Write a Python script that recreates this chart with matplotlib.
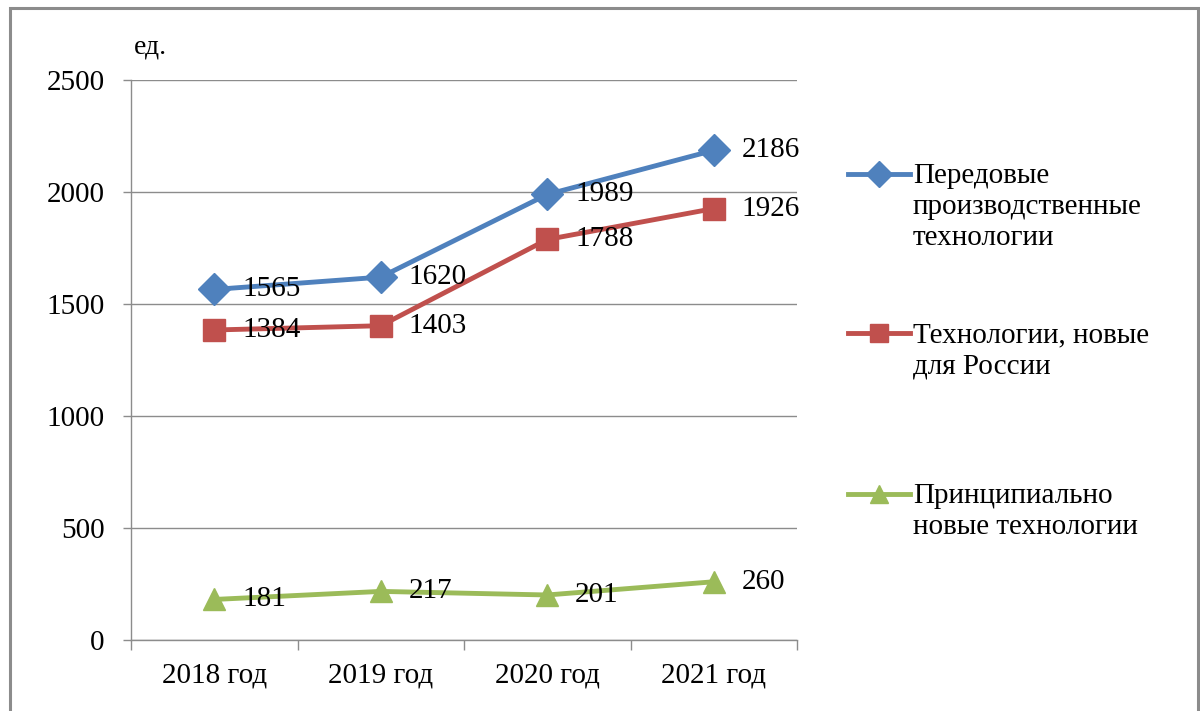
import matplotlib
matplotlib.use("Agg")
import matplotlib.pyplot as plt
from matplotlib.patches import Rectangle

years = ["2018 год", "2019 год", "2020 год", "2021 год"]
series_names = [
    "Передовые\nпроизводственные\nтехнологии",
    "Технологии, новые\nдля России",
    "Принципиально\nновые технологии",
]
advanced = [1565, 1620, 1989, 2186]
new_for_russia = [1384, 1403, 1788, 1926]
fundamentally_new = [181, 217, 201, 260]
y_ticks = [0, 500, 1000, 1500, 2000, 2500]

plt.rcParams["font.family"] = ["Liberation Serif", "DejaVu Serif"]

W, H, DPI = 1200, 711, 100
FS = 21
fig = plt.figure(figsize=(W / DPI, H / DPI), dpi=DPI)
fig.patch.set_facecolor("white")

# outer frame
fig.add_artist(Rectangle((10 / W, -0.05), 1188 / W, 1.05 - 8 / H,
                         transform=fig.transFigure, fill=False,
                         edgecolor="#8c8c8c", linewidth=2.2))

left, right, top, bottom = 131, 797, 80, 640
ax = fig.add_axes([left / W, 1 - bottom / H, (right - left) / W, (bottom - top) / H])

x = list(range(len(years)))
styles = [
    (advanced, "#4F81BD", "D", 16),
    (new_for_russia, "#C0504D", "s", 16),
    (fundamentally_new, "#9BBB59", "^", 16),
]
handles = []
for (vals, color, marker, ms), name in zip(styles, series_names):
    h, = ax.plot(x, vals, color=color, linewidth=3.5, marker=marker,
                 markersize=ms, markeredgecolor=color, label=name, zorder=3)
    handles.append(h)
    for xi, v in zip(x, vals):
        ax.annotate(str(v), (xi, v), xytext=(20, 0), textcoords="offset points",
                    ha="left", va="center", fontsize=FS, color="black", zorder=4)

ax.set_xlim(-0.5, len(years) - 0.5)
ax.set_ylim(0, 2500)
ax.set_yticks(y_ticks)
ax.tick_params(axis="y", labelsize=FS, length=6, width=1, color="#8c8c8c", pad=13)
ax.set_xticks([i - 0.5 for i in range(len(years) + 1)], minor=False)
ax.set_xticklabels([])
ax.set_xticks(x, minor=True)
ax.set_xticklabels(years, minor=True, fontsize=FS)
ax.tick_params(axis="x", which="major", length=7, width=1, color="#8c8c8c", direction="out")
ax.tick_params(axis="x", which="minor", length=0, pad=16)
ax.grid(axis="y", color="#8c8c8c", linewidth=1)
ax.set_axisbelow(True)
for s in ["top", "right"]:
    ax.spines[s].set_visible(False)
for s in ["left", "bottom"]:
    ax.spines[s].set_color("#8c8c8c")
    ax.spines[s].set_linewidth(1)

fig.text(134 / W, 1 - 47 / H, "ед.", fontsize=FS - 1, ha="left", va="center")

# legend entries placed individually to match spacing
legend_y = [174, 333, 494]
for h, name, ly in zip(handles, series_names, legend_y):
    y = 1 - ly / H
    fig.add_artist(plt.Line2D([848 / W, 910 / W], [y, y], transform=fig.transFigure,
                              color=h.get_color(), linewidth=3.5))
    fig.add_artist(plt.Line2D([879 / W], [y], transform=fig.transFigure,
                              color=h.get_color(), marker=h.get_marker(),
                              markersize=h.get_markersize() * 0.8, linestyle="none"))
    fig.text(913 / W, y + 11 / H, name, fontsize=FS, ha="left", va="top",
             linespacing=1.26)

fig.savefig("out.png", dpi=DPI)
